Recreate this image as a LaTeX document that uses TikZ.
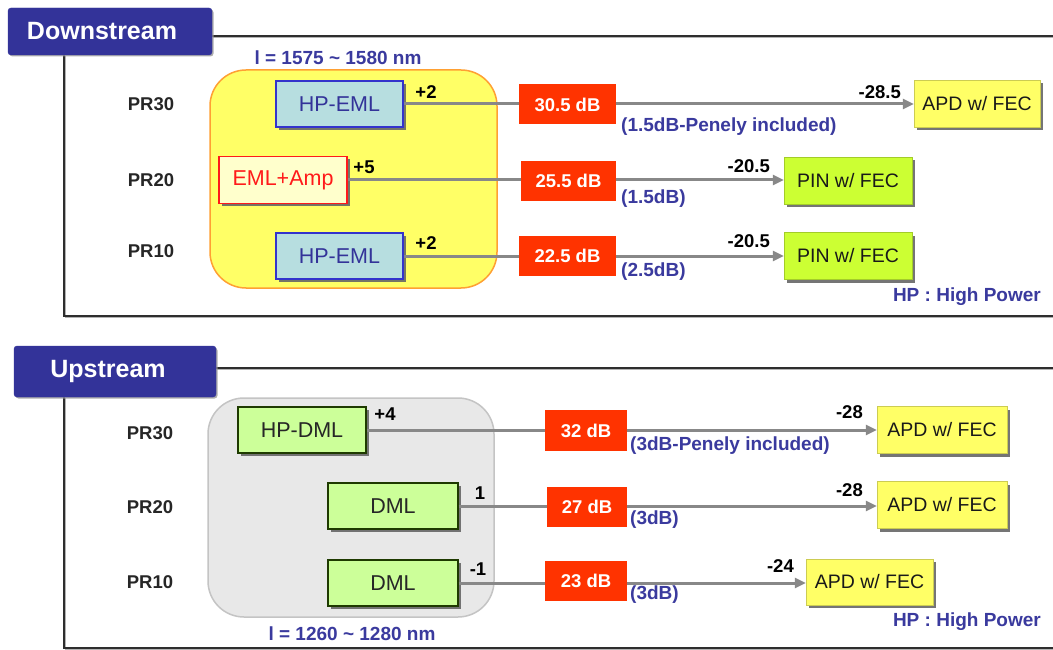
\documentclass[tikz,border=0pt]{standalone}
\usepackage{fontspec}
\setmainfont{Liberation Sans}
\usetikzlibrary{arrows.meta,shadows}
\definecolor{tabblue}{HTML}{333399}
\definecolor{annot}{HTML}{3A3A9E}
\definecolor{hpfill}{HTML}{B7DEE0}
\definecolor{hpdraw}{HTML}{3333CC}
\definecolor{ampfill}{HTML}{FFFFCC}
\definecolor{ampred}{HTML}{FF1A1A}
\definecolor{lossred}{HTML}{FF3300}
\definecolor{ylw}{HTML}{FFFF66}
\definecolor{orng}{HTML}{FFA033}
\definecolor{lime}{HTML}{CCFF33}
\definecolor{lgreen}{HTML}{CCFF99}
\definecolor{dgreen}{HTML}{1E3A00}
\definecolor{regiongray}{HTML}{E8E8E8}
\definecolor{regionedge}{HTML}{C4C4C4}
\definecolor{linegray}{HTML}{888888}
\definecolor{framegray}{HTML}{2E2E2E}
\begin{document}
\begin{tikzpicture}[x=1pt,y=-1pt,
  shadowed/.style={drop shadow={shadow xshift=3pt,shadow yshift=-3pt,fill=black!60,opacity=0.9}},
  tab/.style={fill=tabblue,draw=tabblue,rounded corners=3pt,text=white,inner sep=0pt,
    font=\fontsize{25}{28}\selectfont\bfseries,drop shadow={shadow xshift=1.5pt,shadow yshift=-1.5pt,fill=black!40,opacity=0.8}},
  frame/.style={draw=framegray,line width=1.8pt},
  frameshadow/.style={draw=black!30,line width=1.8pt},
  prlabel/.style={font=\fontsize{18.5}{20}\selectfont\bfseries,text=black!85},
  srcbox/.style={shadowed,line width=1.3pt,inner sep=0pt,font=\fontsize{21.5}{24}\selectfont},
  hpeml/.style={srcbox,fill=hpfill,draw=hpdraw,text=tabblue,minimum width=127,minimum height=46},
  emlamp/.style={srcbox,fill=ampfill,draw=ampred,text=ampred,minimum width=128,minimum height=47},
  dml/.style={srcbox,fill=lgreen,draw=dgreen,text=black!85,minimum height=46},
  rxbox/.style={shadowed,inner sep=0pt,font=\fontsize{19.5}{22}\selectfont,text=black!90,minimum height=47},
  apd/.style={rxbox,fill=ylw,draw=ylw!80!black,line width=0.4pt},
  pin/.style={rxbox,fill=lime,draw=lime!80!black,line width=0.4pt,minimum width=128},
  loss/.style={fill=lossred,inner sep=0pt,text=white,font=\fontsize{18.5}{20}\selectfont\bfseries,minimum height=40},
  note/.style={text=annot,font=\fontsize{19}{21}\selectfont\bfseries,inner sep=0pt},
  pwr/.style={text=black,font=\fontsize{18.5}{20}\selectfont\bfseries,inner sep=0pt},
  conn/.style={draw=linegray,line width=3pt},
  arr/.style={conn,-{Triangle[length=11pt,width=10pt]}}
]
\useasboundingbox (0,0) rectangle (1053,650);
\fill[white] (0,0) rectangle (1053,650);

%%%%%%%% Downstream %%%%%%%%
\draw[frameshadow] (213,37.5) -- (1053,37.5);
\draw[frameshadow] (65.5,56) -- (65.5,317.5) -- (1053,317.5);
\draw[frame] (212,36) -- (1053,36);
\draw[frame] (64,55) -- (64,316) -- (1053,316);
\node[tab,minimum width=204,minimum height=47] (dtab) at (110,31.5) {\hspace*{-16pt}Downstream};

\node[note] (dwl) at (338,58) {l = 1575 \textasciitilde\ 1580 nm};
\filldraw[fill=ylw,draw=orng,line width=1.5pt,rounded corners=36pt] (210,70) rectangle (497,288);

\node[prlabel] (dpr30) at (151,104) {PR30};
\node[prlabel] (dpr20) at (151,180) {PR20};
\node[prlabel] (dpr10) at (151,251) {PR10};

\node[hpeml] (hp1) at (339.5,104) {HP-EML};
\node[emlamp] (amp) at (283,180) {EML+Amp};
\node[hpeml] (hp3) at (339.5,256) {HP-EML};

\node[apd,minimum width=126] (apd1) at (977,104) {APD w/ FEC};
\node[pin] (pin2) at (848,181) {PIN w/ FEC};
\node[pin] (pin3) at (848,256) {PIN w/ FEC};

\draw[arr] (hp1.east) -- (hp1.east -| apd1.west);
\draw[arr] (amp.east) -- (amp.east -| pin2.west);
\draw[arr] (hp3.east) -- (hp3.east -| pin3.west);

\node[loss,minimum width=97] (r1) at (567.5,104.5) {30.5 dB};
\node[loss,minimum width=95] (r2) at (568.5,181) {25.5 dB};
\node[loss,minimum width=97] (r3) at (567.5,255.5) {22.5 dB};

\node[pwr] (p1) at (426,92) {+2};
\node[pwr] (p2) at (364,167) {+5};
\node[pwr] (p3) at (426,243) {+2};

\node[pwr,anchor=east] (s1) at (901,92) {-28.5};
\node[pwr,anchor=east] (s2) at (770,166) {-20.5};
\node[pwr,anchor=east] (s3) at (770,241) {-20.5};

\node[note,anchor=west] (n1) at (621,127) {(1.5dB-Penely included)};
\node[note,anchor=west] (n2) at (621,199) {(1.5dB)};
\node[note,anchor=west] (n3) at (621,272) {(2.5dB)};

\node[note,anchor=east] (dhp) at (1041,297) {HP : High Power};

%%%%%%%% Upstream %%%%%%%%
\draw[frameshadow] (217,369.5) -- (1053,369.5);
\draw[frameshadow] (65.5,398) -- (65.5,649.5) -- (1053,649.5);
\draw[frame] (216,368) -- (1053,368);
\draw[frame] (64,397) -- (64,648) -- (1053,648);
\node[tab,minimum width=202,minimum height=51] (utab) at (115,371.5) {\hspace*{-14pt}Upstream};

\filldraw[fill=regiongray,draw=regionedge,line width=1.5pt,rounded corners=36pt] (208,398) rectangle (494,617);
\node[note] (uwl) at (352,634) {l = 1260 \textasciitilde\ 1280 nm};

\node[prlabel] (upr30) at (150,433) {PR30};
\node[prlabel] (upr20) at (150,507) {PR20};
\node[prlabel] (upr10) at (150,582) {PR10};

\node[dml,minimum width=128] (hd) at (302,430) {HP-DML};
\node[dml,minimum width=130] (d2) at (393,506) {DML};
\node[dml,minimum width=130] (d3) at (393,583) {DML};

\node[apd,minimum width=130] (a4) at (942,430) {APD w/ FEC};
\node[apd,minimum width=130] (a5) at (942,505) {APD w/ FEC};
\node[apd,minimum width=127,minimum height=46] (a6) at (869.5,582) {APD w/ FEC};

\draw[arr] (hd.east) -- (hd.east -| a4.west);
\draw[arr] (d2.east) -- (d2.east -| a5.west);
\draw[arr] (d3.east) -- (d3.east -| a6.west);

\node[loss,minimum width=82,minimum height=41] (r4) at (586,430.5) {32 dB};
\node[loss,minimum width=80] (r5) at (587,507) {27 dB};
\node[loss,minimum width=82] (r6) at (586,581) {23 dB};

\node[pwr] (p4) at (385,414) {+4};
\node[pwr] (p5) at (480,493) {1};
\node[pwr] (p6) at (478,569) {-1};

\node[pwr,anchor=east] (s4) at (863,412) {-28};
\node[pwr,anchor=east] (s5) at (863,490) {-28};
\node[pwr,anchor=east] (s6) at (794,566) {-24};

\node[note,anchor=west] (n4) at (630,446) {(3dB-Penely included)};
\node[note,anchor=west] (n5) at (630,520) {(3dB)};
\node[note,anchor=west] (n6) at (630,595) {(3dB)};

\node[note,anchor=east] (uhp) at (1041,622) {HP : High Power};
\end{tikzpicture}
\end{document}
